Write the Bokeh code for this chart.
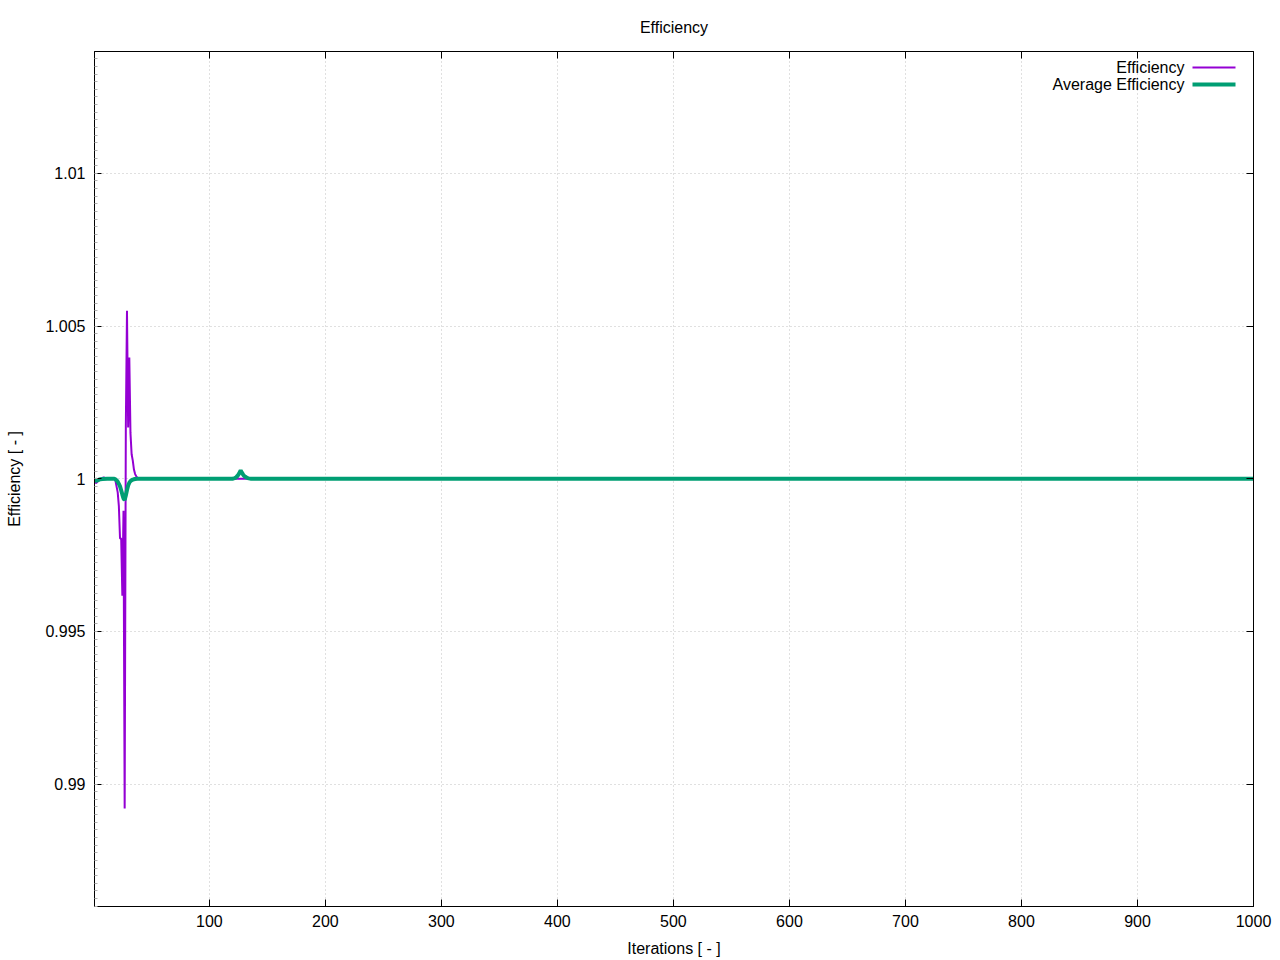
from bokeh.plotting import figure
from bokeh.models import Range1d, FixedTicker, LinearAxis, Label, BoxAnnotation
from bokeh.embed import file_html
from bokeh.resources import INLINE

# ---------------- data ----------------
title_text = "Efficiency"
x_label = "Iterations [ - ]"
y_label = "Efficiency [ - ]"
series_names = ["Efficiency", "Average Efficiency"]
series_colors = ["#9400d3", "#009e73"]

eff_iter = [1, 2, 3, 4, 5, 6, 7, 8, 9, 10, 11, 18, 19, 20, 21, 22, 23, 24, 25, 26,
            27, 28, 29, 30, 31, 32, 33, 34, 35, 36, 37, 38, 39, 1000]
eff_val = [1.0, 0.99985, 0.99988, 0.99993, 0.99996, 0.99998, 1.00001, 1.00003, 1.00004,
           1.00002, 1.0, 1.0, 0.99995, 0.99975, 0.99955, 0.9991, 0.99804, 0.99804,
           0.99617, 0.99895, 0.9892, 1.00168, 1.0055, 1.00168, 1.00397, 1.0015,
           1.0008, 1.00059, 1.0003, 1.00015, 1.00008, 1.00003, 1.0, 1.0]

avg_iter = [1, 2, 3, 4, 5, 6, 8, 12, 18, 19, 20, 21, 22, 23, 24, 25, 26, 27, 28, 29,
            30, 31, 32, 33, 34, 35, 36, 38, 120, 121, 122, 123, 124, 125, 126, 127,
            128, 129, 130, 131, 132, 133, 134, 136, 1000]
avg_val = [1.0, 0.99994, 0.99993, 0.99995, 0.99997, 0.99998, 0.99999, 1.0, 1.0,
           0.99998, 0.99995, 0.9999, 0.99983, 0.99975, 0.99962, 0.99948, 0.99935,
           0.9993, 0.99945, 0.99963, 0.99978, 0.99987, 0.99992, 0.99995, 0.99997,
           0.99998, 0.99999, 1.0, 1.0, 1.00001, 1.00002, 1.00004, 1.00008, 1.00013,
           1.0002, 1.00027, 1.0002, 1.00014, 1.00009, 1.00006, 1.00004, 1.00002,
           1.00001, 1.0, 1.0]

x_ticks = [100, 200, 300, 400, 500, 600, 700, 800, 900, 1000]
y_ticks = [0.99, 0.995, 1.0, 1.005, 1.01]
y_tick_labels = ["0.99", "0.995", "1", "1.005", "1.01"]

# ---------------- figure ----------------
FONT = "Liberation Sans"
FS = "16px"
W, H = 1280, 960
B_LEFT, B_RIGHT, B_TOP, B_BOTTOM = 94, 27, 51, 54

p = figure(width=W, height=H, output_backend="svg", toolbar_location=None,
           x_range=Range1d(1, 1000), y_range=Range1d(0.98599, 1.01399),
           min_border_left=B_LEFT, min_border_right=B_RIGHT, min_border_top=B_TOP,
           min_border_bottom=B_BOTTOM, background_fill_color="white",
           border_fill_color="white")
p.outline_line_color = "black"
p.outline_line_width = 1

p.title.text = title_text
p.title.align = "center"
p.title.text_font = FONT
p.title.text_font_size = FS
p.title.text_font_style = "normal"
p.title.text_color = "black"
p.title.standoff = 31

x_ticker = FixedTicker(ticks=x_ticks)
y_minor = [round(0.986 + i * 0.00025, 6) for i in range(113)]
y_ticker = FixedTicker(ticks=y_ticks, minor_ticks=y_minor)
y_ticker_plain = FixedTicker(ticks=y_ticks)

xa = p.xaxis[0]
xa.ticker = x_ticker
xa.axis_label = x_label
ya = p.yaxis[0]
ya.ticker = y_ticker
ya.axis_label = y_label
ya.major_label_overrides = {t: l for t, l in zip(y_ticks, y_tick_labels)}

for ax in (xa, ya):
    ax.axis_line_color = "black"
    ax.major_tick_in = 7
    ax.major_tick_out = 0
    ax.major_tick_line_color = "black"
    ax.major_label_text_font = FONT
    ax.major_label_text_font_size = FS
    ax.major_label_text_color = "black"
    ax.axis_label_text_font = FONT
    ax.axis_label_text_font_size = FS
    ax.axis_label_text_font_style = "normal"
    ax.axis_label_text_color = "black"
    ax.minor_tick_out = 0
xa.minor_tick_in = 0
xa.minor_tick_line_color = None
ya.minor_tick_in = 3
ya.minor_tick_line_color = "#b0b0b0"
xa.major_label_standoff = 8
xa.axis_label_standoff = 10
ya.major_label_standoff = 9
ya.axis_label_standoff = 19

# mirror axes (ticks only, no labels)
top_ax = LinearAxis(ticker=x_ticker, major_tick_in=7, major_tick_out=0,
                    minor_tick_in=0, minor_tick_out=0, minor_tick_line_color=None,
                    major_label_text_font_size="1px", major_label_text_color=None,
                    major_label_standoff=0, axis_line_color="black")
right_ax = LinearAxis(ticker=y_ticker_plain, major_tick_in=7, major_tick_out=0,
                      minor_tick_in=0, minor_tick_out=0, minor_tick_line_color=None,
                      major_label_text_font_size="1px", major_label_text_color=None,
                      major_label_standoff=0, axis_line_color="black")
p.add_layout(top_ax, "above")
p.add_layout(right_ax, "right")

for g in (p.xgrid[0], p.ygrid[0]):
    g.grid_line_color = "#c0c0c0"
    g.grid_line_dash = "1 3"
    g.grid_line_width = 1
p.xgrid[0].ticker = x_ticker
p.ygrid[0].ticker = y_ticker_plain

# ---------------- series ----------------
p.line(eff_iter, eff_val, line_color=series_colors[0], line_width=2)
p.line(avg_iter, avg_val, line_color=series_colors[1], line_width=4)

# ---------------- legend (gnuplot style: label left of sample) ----------------
frame_h = H - B_TOP - B_BOTTOM
rows = [(series_names[0], series_colors[0], 2), (series_names[1], series_colors[1], 4)]
for i, (name, col, lw) in enumerate(rows):
    yc = frame_h - 16 - 17 * i
    p.add_layout(Label(x=1090, y=yc, x_units="screen", y_units="screen", text=name,
                       text_align="right", text_baseline="middle", text_font=FONT,
                       text_font_size=FS, text_color="black"))
    p.add_layout(BoxAnnotation(left=1098, right=1141, bottom=yc - lw / 2, top=yc + lw / 2,
                               left_units="screen", right_units="screen",
                               bottom_units="screen", top_units="screen",
                               fill_color=col, fill_alpha=1.0, line_color=None))

open("out.html", "w").write(file_html(p, INLINE))
